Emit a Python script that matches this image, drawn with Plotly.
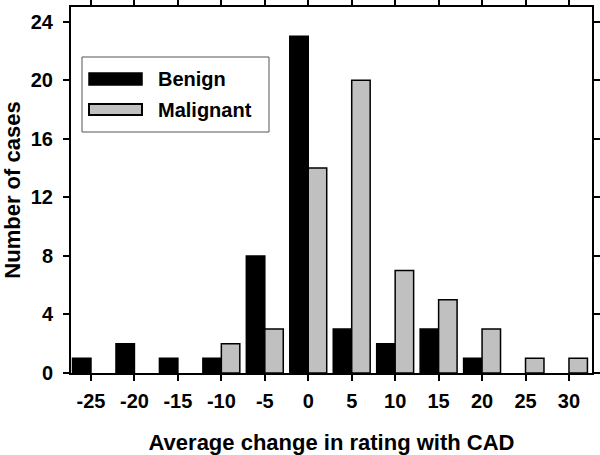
import plotly.graph_objects as go

categories = [-25, -20, -15, -10, -5, 0, 5, 10, 15, 20, 25, 30]
benign = [1, 2, 1, 1, 8, 23, 3, 2, 3, 1, 0, 0]
malignant = [0, 0, 0, 2, 3, 14, 20, 7, 5, 3, 1, 1]
y_ticks = [0, 4, 8, 12, 16, 20, 24]

FONT = "Liberation Sans, Arial, sans-serif"
GRAY = "#c0c0c0"

def nz(vals):
    # empty bins are drawn as no bar at all
    return [v if v else None for v in vals]

fig = go.Figure()
fig.add_trace(go.Bar(x=categories, y=nz(benign), name="Benign",
                     marker=dict(color="black", line=dict(color="black", width=1.5)),
                     showlegend=False))
fig.add_trace(go.Bar(x=categories, y=nz(malignant), name="Malignant",
                     marker=dict(color=GRAY, line=dict(color="black", width=1.5)),
                     showlegend=False))

axis_common = dict(showline=True, linecolor="black", linewidth=2, mirror="ticks",
                   ticks="outside", ticklen=6, tickwidth=2, tickcolor="black",
                   showgrid=False, zeroline=False, automargin=False,
                   tickfont=dict(family=FONT, size=20, color="black", weight="bold"))

fig.update_xaxes(range=[-27.3, 32.65], tickvals=categories,
                 ticktext=[str(c) for c in categories], ticklabelstandoff=3,
                 title=dict(text="<b>Average change in rating with CAD</b>",
                            font=dict(family=FONT, size=22, color="black"), standoff=26),
                 **axis_common)
fig.update_yaxes(range=[0, 25], tickvals=y_ticks, ticklabelstandoff=6,
                 title=dict(text="<b>Number of cases</b>",
                            font=dict(family=FONT, size=22, color="black"), standoff=6),
                 **axis_common)

# custom legend (box, swatches, labels) in paper coordinates
W, H = 600, 455
ml, mr, mt, mb = 71, 8, 7, 82
pw, ph = W - ml - mr, H - mt - mb
def px(x):
    return (x - ml) / pw
def py(y):
    return 1 - (y - mt) / ph

shapes = [
    dict(type="rect", xref="paper", yref="paper", x0=px(82), x1=px(269), y0=py(132), y1=py(57),
         line=dict(color="#555555", width=1), fillcolor="white", layer="above"),
    dict(type="rect", xref="paper", yref="paper", x0=px(89), x1=px(142), y0=py(85), y1=py(73),
         line=dict(color="black", width=1.5), fillcolor="black", layer="above"),
    dict(type="rect", xref="paper", yref="paper", x0=px(89), x1=px(142), y0=py(115), y1=py(104),
         line=dict(color="black", width=2), fillcolor=GRAY, layer="above"),
]
annotations = [
    dict(xref="paper", yref="paper", x=px(156), y=py(79), text="<b>Benign</b>", showarrow=False,
         xanchor="left", yanchor="middle", font=dict(family=FONT, size=20, color="black")),
    dict(xref="paper", yref="paper", x=px(156), y=py(110), text="<b>Malignant</b>", showarrow=False,
         xanchor="left", yanchor="middle", font=dict(family=FONT, size=20, color="black")),
]

fig.update_layout(width=W, height=H, margin=dict(l=ml, r=mr, t=mt, b=mb),
                  barmode="group", bargap=0.15, bargroupgap=0,
                  plot_bgcolor="white", paper_bgcolor="white",
                  shapes=shapes, annotations=annotations,
                  font=dict(family=FONT, color="black"))

fig.write_html("out.html", config={"displayModeBar": False},
               post_script="document.body.style.margin='0';document.body.style.overflow='hidden';")
